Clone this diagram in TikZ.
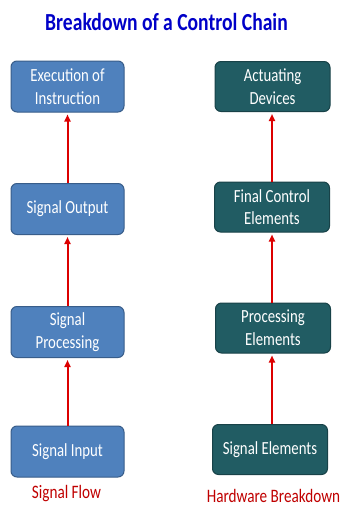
\documentclass[tikz,border=0pt]{standalone}
\usepackage{fontspec}
\setmainfont{Carlito}[FakeStretch=0.8]
\usetikzlibrary{arrows.meta}
\definecolor{titleblue}{RGB}{0,0,200}
\definecolor{lfill}{RGB}{79,129,189}
\definecolor{ldraw}{RGB}{56,93,138}
\definecolor{rfill}{RGB}{33,92,99}
\definecolor{rdraw}{RGB}{24,66,72}
\definecolor{arrred}{RGB}{220,0,0}
\definecolor{labred}{RGB}{192,0,0}
\tikzset{
  x=1pt,y=1pt,
  boxbase/.style={rectangle, rounded corners=6pt, line width=1pt, text=white, align=center,
    font=\fontsize{18.5}{22.7}\selectfont, inner sep=0pt},
  lbox/.style={boxbase, fill=lfill, draw=ldraw, minimum width=113pt, minimum height=51pt},
  rbox/.style={boxbase, fill=rfill, draw=rdraw, minimum width=115pt, minimum height=50pt},
  flow/.style={draw=arrred, line width=2pt, -{Triangle[length=7pt,width=6pt]}, shorten >=2pt, shorten <=0pt},
  lab/.style={text=labred, font=\fontsize{19}{23}\selectfont, inner sep=0pt}
}
\begin{document}
\begin{tikzpicture}
\useasboundingbox (0,0) rectangle (345,-506);
\fill[white] (0,0) rectangle (345,-506);
\node[text=titleblue, font=\fontsize{24.5}{28}\selectfont\bfseries, inner sep=0pt] (title) at (166.5,-22) {Breakdown of a Control Chain};

\node[lbox] (l1) at (67.5,-86.5) {Execution of\\Instruction};
\node[lbox] (l2) at (67.5,-209) {Signal Output};
\node[lbox] (l3) at (67.5,-332) {Signal\\Processing};
\node[lbox] (l4) at (67.5,-451.5) {Signal Input};
\node[lab] (lt) at (66.5,-494) {Signal Flow};

\node[rbox] (r1) at (272.5,-86.5) {Actuating\\Devices};
\node[rbox] (r2) at (272,-207) {Final Control\\Elements};
\node[rbox] (r3) at (273,-328) {Processing\\Elements};
\node[rbox] (r4) at (270,-449.5) {Signal Elements};
\node[lab] (rt) at (273.5,-496) {Hardware Breakdown};

\draw[flow] (l4.north) -- (l3.south);
\draw[flow] (l3.north) -- (l2.south);
\draw[flow] (l2.north) -- (l1.south);
\draw[flow] (r4.north -| r2.south) -- (r3.south -| r2.south);
\draw[flow] (r3.north -| r2.south) -- (r2.south);
\draw[flow] (r2.north) -- (r1.south -| r2.north);
\end{tikzpicture}
\end{document}
